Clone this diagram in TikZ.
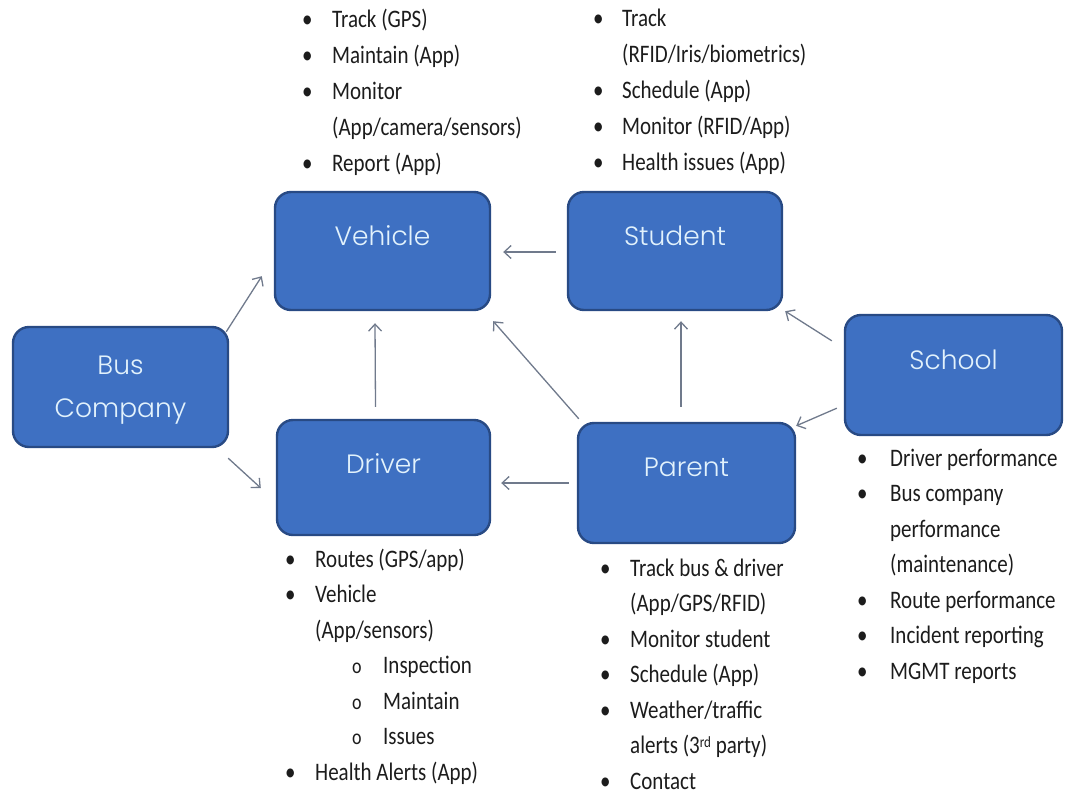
\documentclass[tikz,border=0pt]{standalone}
\usepackage{fontspec}
\setmainfont{Carlito}
\newfontfamily\boxfont{Poppins Light}
\usetikzlibrary{arrows.meta,calc}
\definecolor{boxfill}{RGB}{62,112,194}
\definecolor{boxline}{RGB}{40,74,132}
\definecolor{boxtext}{RGB}{226,242,252}
\definecolor{arrowc}{RGB}{112,122,140}
\definecolor{listtext}{RGB}{28,28,28}
\newcommand\nesteditem[1]{\hspace*{37pt}\makebox[31pt][l]{\fontsize{18}{18}\selectfont o}#1}

\begin{document}
\begin{tikzpicture}[x=1pt,y=-1pt,
  entity/.style={draw=boxline, line width=2.4pt, fill=boxfill,
    rounded corners=16pt, text=boxtext, align=center,
    font=\boxfont\fontsize{26.5}{43}\selectfont},
  flow/.style={draw=arrowc, line width=1.3pt,
    -{Straight Barb[length=7pt,width=13pt]}},
  bullets/.style={anchor=base west, inner sep=0pt, yscale=1.2,
    transform shape, text=listtext,
    font=\fontsize{21}{29.6}\selectfont},
]
\useasboundingbox (0,0) rectangle (1073,807);

% the six parties
\node[entity, minimum width=215, minimum height=118, text depth=30pt]
  (vehicle) at (382.5,251) {Vehicle};
\node[entity, minimum width=214, minimum height=118, text depth=30pt]
  (student) at (675,251) {Student};
\node[entity, minimum width=215, minimum height=120, text depth=-10pt]
  (bus) at (120.5,387) {Bus\\Company};
\node[entity, minimum width=213, minimum height=115, text depth=27pt]
  (driver) at (383.5,477.5) {Driver};
\node[entity, minimum width=217, minimum height=120, text depth=32pt]
  (parent) at (686.5,483) {Parent};
\node[entity, minimum width=217, minimum height=120, text depth=30pt]
  (school) at (953.5,375) {School};

% who tracks / informs whom
\draw[flow] ([shift={(-11,1)}]student.west) -- ([shift={(12,1)}]vehicle.east);
\draw[flow] ([shift={(-3,6)}]bus.north east) -- ([shift={(-12,-35)}]vehicle.south west);
\draw[flow] ([shift={(-1,10)}]bus.south east) -- ([shift={(-15,10.5)}]driver.west);
\draw[flow] ([shift={(-8,-12)}]driver.north) -- ([shift={(-7.5,12)}]vehicle.south);
\draw[flow] ([shift={(2,-3)}]parent.north west) -- ([shift={(2,10)}]vehicle.south east);
\draw[flow] ([shift={(-5.5,-15)}]parent.north) -- ([shift={(6,10)}]student.south);
\draw[flow] ([shift={(-8,0)}]parent.west) -- ([shift={(10,5.5)}]driver.east);
\draw[flow] ([shift={(-12,27)}]school.north west) -- ([shift={(2,0)}]student.south east);
\draw[flow] ([shift={(-7,-28)}]school.south west) -- ([shift={(0,4)}]parent.north east);

% responsibilities of each party
\node[bullets, font=\fontsize{21}{30.2}\selectfont] (vehlist) at (302,27)
{\begin{tabular}[t]{@{}p{30pt}@{}l@{}}
• & Track (GPS)\\
• & Maintain (App)\\
• & Monitor\\
  & (App/camera/sensors)\\
• & Report (App)
\end{tabular}};

\node[bullets, font=\fontsize{21}{30.2}\selectfont] (stulist) at (593,26)
{\begin{tabular}[t]{@{}p{29pt}@{}l@{}}
• & Track\\
  & (RFID/Iris/biometrics)\\
• & Schedule (App)\\
• & Monitor (RFID/App)\\
• & Health issues (App)
\end{tabular}};

\node[bullets] (schlist) at (857,466) {\begin{tabular}[t]{@{}p{33pt}@{}l@{}}
• & Driver performance\\
• & Bus company\\
  & performance\\
  & (maintenance)\\
• & Route performance\\
• & Incident reporting\\
• & MGMT reports
\end{tabular}};

\node[bullets] (parlist) at (600,576) {\begin{tabular}[t]{@{}p{30pt}@{}l@{}}
• & Track bus \& driver\\
  & (App/GPS/RFID)\\
• & Monitor student\\
• & Schedule (App)\\
• & Weather/traffic\\
  & alerts (3{\fontsize{13}{13}\selectfont\raisebox{5pt}{rd}} party)\\
• & Contact
\end{tabular}};

\node[bullets] (drvlist) at (285,567)
{\begin{tabular}[t]{@{}p{30pt}@{}l@{}}
• & Routes (GPS/app)\\
• & Vehicle\\
  & (App/sensors)\\
  & \nesteditem{Inspection}\\
  & \nesteditem{Maintain}\\
  & \nesteditem{Issues}\\
• & Health Alerts (App)
\end{tabular}};
\end{tikzpicture}
\end{document}
